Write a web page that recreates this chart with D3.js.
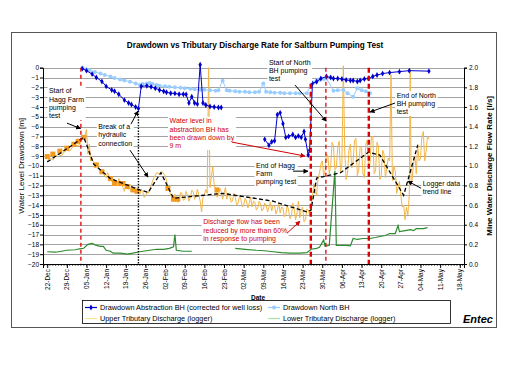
<!DOCTYPE html>
<html><head><meta charset="utf-8">
<script src="https://cdn.jsdelivr.net/npm/d3@7"></script>
<style>body{margin:0;background:#fff}svg{display:block;font-family:"Liberation Sans",Arial,sans-serif}</style>
</head><body><svg id="c" width="517" height="365"></svg>
<script>
// ---------- data ----------
const title = "Drawdown vs Tributary Discharge Rate for Saltburn Pumping Test";
const xDomain = ["2004-12-20 12", "2005-05-19 12"];
const tickDates = ["2004-12-22","2004-12-29","2005-01-05","2005-01-12","2005-01-19","2005-01-26","2005-02-02","2005-02-09","2005-02-16","2005-02-23","2005-03-02","2005-03-09","2005-03-16","2005-03-23","2005-03-30","2005-04-06","2005-04-13","2005-04-20","2005-04-27","2005-05-04","2005-05-11","2005-05-18"];
const tickLabels = ["22-Dec","29-Dec","05-Jan","12-Jan","19-Jan","26-Jan","02-Feb","09-Feb","16-Feb","23-Feb","02-Mar","09-Mar","16-Mar","23-Mar","30-Mar","06-Apr","13-Apr","20-Apr","27-Apr","04-May","11-May","18-May"];
const leftTicks = d3.range(0, -21, -1);
const rightTicks = [0,0.2,0.4,0.6,0.8,1.0,1.2,1.4,1.6,1.8,2.0];

// Drawdown Abstraction BH (m)
const abstractionBH = [
["2005-01-03 12",-0.1],["2005-01-05",-0.3],["2005-01-07",-0.65],["2005-01-08 12",-1.0],["2005-01-10 12",-1.4],["2005-01-12",-1.9],
["2005-01-14",-2.27],["2005-01-15",-2.4],["2005-01-16 12",-2.7],["2005-01-18 12",-3.3],["2005-01-20",-3.6],["2005-01-21",-3.75],
["2005-01-22 12",-4.0],["2005-01-23 12",-4.15],["2005-01-24 12",-1.9],["2005-01-26 12",-1.85],["2005-01-28",-1.95],["2005-01-29 12",-2.1],
["2005-01-31",-2.27],["2005-02-01 12",-2.4],["2005-02-02 12",-2.5],["2005-02-04",-2.6],["2005-02-05 12",-2.62],["2005-02-07",-2.7],
["2005-02-08 12",-2.7],["2005-02-09 12",-2.72],["2005-02-10 12",-3.6],["2005-02-11 12",-2.95],["2005-02-12 12",-3.6],["2005-02-13 12",-3.7],
["2005-02-14 12",0.3],["2005-02-15 12",-3.6],["2005-02-16 12",-3.8],["2005-02-18",-3.95],["2005-02-19 12",-4.0],["2005-02-21",-4.05],["2005-02-22",-4.05],
["2005-02-25",null],
["2005-03-09 12",-7.3],["2005-03-11",-7.9],["2005-03-12",-7.55],["2005-03-13",-7.45],["2005-03-14",-4.8],["2005-03-15",-4.6],["2005-03-16",-5.7],
["2005-03-17",-7.1],["2005-03-18",-7.0],["2005-03-19 12",-6.8],["2005-03-20 12",-7.1],["2005-03-21 12",-6.95],["2005-03-22 12",-7.1],
["2005-03-23 12",-6.5],["2005-03-24",-7.3],["2005-03-25",-8.9],["2005-03-25 12",-8.4],["2005-03-26 12",-1.6],["2005-03-28",-1.43],
["2005-03-29 12",-1.1],["2005-03-31 12",-0.9],["2005-04-02",-1.0],["2005-04-03",-1.1],["2005-04-04 12",-1.1],["2005-04-06",-1.15],
["2005-04-07 12",-1.25],["2005-04-09",-1.3],["2005-04-10",-1.3],["2005-04-11 12",-1.4],["2005-04-12 12",-1.3],["2005-04-14",-1.15],
["2005-04-15 12",-1.1],["2005-04-17",-0.9],["2005-04-18 12",-0.75],["2005-04-20 12",-0.6],["2005-04-23",-0.5],["2005-04-26 12",-0.4],
["2005-04-30",-0.3],["2005-05-07",-0.35]];

// Drawdown North BH (m)
const northBH = [
["2005-01-03 12",0.0],["2005-01-05",-0.15],["2005-01-06",-0.25],["2005-01-08",-0.45],["2005-01-10",-0.6],["2005-01-11 12",-0.75],
["2005-01-13 12",-0.9],["2005-01-15",-1.05],["2005-01-17",-1.2],["2005-01-18 12",-1.3],["2005-01-20 12",-1.43],["2005-01-22 12",-1.6],
["2005-01-24",-1.77],["2005-01-25",-1.65],["2005-01-26 12",-1.6],["2005-01-27 12",-1.55],["2005-01-28 12",-1.65],["2005-01-30",-1.77],
["2005-01-31",-1.85],["2005-02-02",-1.9],["2005-02-03 12",-1.95],["2005-02-05 12",-2.0],["2005-02-07 12",-2.05],["2005-02-09",-2.1],
["2005-02-11",-2.15],["2005-02-12 12",-2.2],["2005-02-14 12",-2.25],["2005-02-16",-2.25],["2005-02-18",-2.3],["2005-02-20",-2.35],
["2005-02-21",-2.3],["2005-02-22 12",-1.33],["2005-02-24",-2.3],["2005-02-25",-2.35],["2005-02-27",-2.4],["2005-02-28 12",-2.45],
["2005-03-02 12",-2.45],["2005-03-04",-2.5],["2005-03-06",-2.5],["2005-03-07 12",-2.45],["2005-03-09",-1.6],["2005-03-10",-2.45],
["2005-03-11 12",-2.5],["2005-03-13",-2.55],["2005-03-15",-2.55],["2005-03-16 12",-2.6],["2005-03-18 12",-2.6],["2005-03-20 12",-2.6],
["2005-03-22",-2.6],["2005-03-24 12",-2.6],["2005-03-26",-1.77],["2005-03-27",-1.5],["2005-03-28",-1.3],["2005-03-29",-1.25],
["2005-03-30 12",-1.15],["2005-03-31 12",-1.1],["2005-04-03",-2.35],["2005-04-04 12",-2.3],["2005-04-06 12",-2.27],["2005-04-08",-2.6],
["2005-04-10",-2.95],["2005-04-11 12",-2.1],["2005-04-13",-2.3],["2005-04-14 12",-2.4],["2005-04-16",-2.6]];

// Upper Tributary Discharge (logger) (l/s)
const upperTrib = [
["2004-12-22",1.05],["2004-12-23",1.08],["2004-12-24",1.06],["2004-12-25",1.10],["2004-12-26",1.12],["2004-12-27",1.10],["2004-12-28",1.14],
["2004-12-29",1.16],["2004-12-30",1.15],["2004-12-31",1.19],["2005-01-01",1.21],["2005-01-02",1.20],["2005-01-03",1.25],["2005-01-04",1.29],
["2005-01-04 12",1.31],["2005-01-05",1.37],["2005-01-05 12",1.12],["2005-01-06",1.22],["2005-01-06 12",1.05],["2005-01-07",1.08],
["2005-01-08",0.98],["2005-01-09",1.00],["2005-01-10",0.94],["2005-01-11",0.92],["2005-01-12",0.88],["2005-01-12 12",0.93],["2005-01-13",0.90],
["2005-01-14",0.85],["2005-01-14 12",0.80],["2005-01-15",0.86],["2005-01-16",0.82],["2005-01-16 12",0.87],["2005-01-17",0.84],["2005-01-18",0.78],
["2005-01-18 12",0.74],["2005-01-19",0.80],["2005-01-20",0.76],["2005-01-20 12",0.81],["2005-01-21",0.79],["2005-01-22",0.73],["2005-01-22 12",0.78],
["2005-01-23",0.75],["2005-01-24",0.71],["2005-01-24 12",0.76],["2005-01-25",0.74],["2005-01-25 12",0.68],["2005-01-26",0.69],["2005-01-26 12",0.73],
["2005-01-27",0.72],["2005-01-27 12",0.76],["2005-01-28",0.80],["2005-01-29",0.88],["2005-01-30",0.93],["2005-01-31",0.92],["2005-02-01",0.94],
["2005-02-02",0.90],["2005-02-03",0.80],["2005-02-04",0.70],["2005-02-05",0.66],["2005-02-05 12",0.71],["2005-02-06",0.68],["2005-02-06 12",0.63],
["2005-02-07",0.64],["2005-02-07 12",0.73],["2005-02-08",0.72],["2005-02-08 12",0.65],["2005-02-09",0.66],["2005-02-09 12",0.74],["2005-02-10",0.70],
["2005-02-10 12",0.64],["2005-02-11",0.68],["2005-02-11 12",0.75],["2005-02-12",0.74],["2005-02-12 12",0.66],["2005-02-13",0.69],["2005-02-13 12",0.76],
["2005-02-14",0.71],["2005-02-14 12",0.64],["2005-02-15",0.53],["2005-02-15 12",0.68],["2005-02-16",0.70],["2005-02-16 12",0.76],["2005-02-17",0.72],
["2005-02-17 12",2.0],["2005-02-18",0.78],["2005-02-19",0.99],["2005-02-19 12",0.80],["2005-02-20",0.76],["2005-02-20 12",0.68],["2005-02-21",0.70],
["2005-02-21 12",0.77],["2005-02-22",0.74],["2005-02-22 12",0.66],["2005-02-23",0.72],["2005-02-23 12",0.78],["2005-02-24",0.66],["2005-02-24 12",0.72],
["2005-02-25",0.70],["2005-02-25 12",0.63],["2005-02-26",0.64],["2005-02-26 12",0.72],["2005-02-27",0.68],["2005-02-27 12",0.60],["2005-02-28",0.62],
["2005-02-28 12",0.69],["2005-03-01",0.66],["2005-03-01 12",0.58],["2005-03-02",0.60],["2005-03-02 12",0.67],["2005-03-03",0.64],["2005-03-03 12",0.57],
["2005-03-04",0.62],["2005-03-04 12",0.68],["2005-03-05",0.58],["2005-03-05 12",0.64],["2005-03-06",0.63],["2005-03-06 12",0.55],["2005-03-07",0.57],
["2005-03-07 12",0.64],["2005-03-08",0.61],["2005-03-08 12",0.54],["2005-03-09",0.56],["2005-03-09 12",0.62],["2005-03-10",0.60],["2005-03-10 12",0.53],
["2005-03-11",0.58],["2005-03-11 12",0.63],["2005-03-12",0.54],["2005-03-12 12",0.60],["2005-03-13",0.59],["2005-03-13 12",0.51],["2005-03-14",0.55],
["2005-03-14 12",0.62],["2005-03-15",0.52],["2005-03-15 12",0.58],["2005-03-16",0.57],["2005-03-16 12",0.48],["2005-03-17",0.50],["2005-03-17 12",0.60],
["2005-03-18",0.55],["2005-03-18 12",0.46],["2005-03-19",0.49],["2005-03-19 12",0.62],["2005-03-20",0.56],["2005-03-20 12",0.45],["2005-03-21",0.52],
["2005-03-21 12",0.64],["2005-03-22",0.47],["2005-03-22 12",0.55],["2005-03-23",0.58],["2005-03-23 12",0.43],["2005-03-24",0.45],["2005-03-24 12",0.56],
["2005-03-25",0.55],["2005-03-25 12",0.50],["2005-03-26",0.60],["2005-03-26 12",0.68],["2005-03-27",0.82],["2005-03-27 12",0.74],["2005-03-28",0.70],
["2005-03-28 12",0.88],["2005-03-29",0.92],["2005-03-29 12",1.02],["2005-03-30",1.05],["2005-03-30 12",0.90],["2005-03-31",0.95],["2005-03-31 12",1.12],
["2005-04-01",1.10],["2005-04-01 12",0.92],["2005-04-02",1.00],["2005-04-02 12",1.24],["2005-04-03",1.20],["2005-04-03 12",0.96],["2005-04-04",0.98],
["2005-04-04 12",1.18],["2005-04-05",1.25],["2005-04-05 12",0.94],["2005-04-06",1.02],["2005-04-06 12",2.02],["2005-04-07",1.15],["2005-04-07 12",0.86],
["2005-04-08",0.92],["2005-04-08 12",1.16],["2005-04-09",1.22],["2005-04-09 12",0.98],["2005-04-10",1.05],["2005-04-10 12",1.26],["2005-04-11",1.28],
["2005-04-11 12",0.90],["2005-04-12",0.96],["2005-04-12 12",1.20],["2005-04-13",1.18],["2005-04-13 12",0.92],["2005-04-14",0.88],["2005-04-14 12",1.22],
["2005-04-15",1.26],["2005-04-15 12",0.98],["2005-04-16",1.02],["2005-04-16 12",1.30],["2005-04-17",1.30],["2005-04-17 12",0.92],["2005-04-18",0.95],
["2005-04-18 12",1.24],["2005-04-19",1.20],["2005-04-19 12",0.86],["2005-04-20",0.90],["2005-04-20 12",1.16],["2005-04-21",1.12],["2005-04-21 12",0.88],
["2005-04-22",0.98],["2005-04-22 12",1.08],["2005-04-23",1.05],["2005-04-23 12",1.93],["2005-04-24",0.85],["2005-04-24 12",1.00],["2005-04-25",0.95],
["2005-04-25 12",0.72],["2005-04-26",0.78],["2005-04-26 12",0.84],["2005-04-27",0.70],["2005-04-27 12",0.58],["2005-04-28",0.60],["2005-04-28 12",0.45],
["2005-04-29",0.58],["2005-04-29 12",0.50],["2005-04-30",0.70],["2005-04-30 08",1.98],["2005-04-30 16",0.80],["2005-05-01",0.85],["2005-05-01 12",1.02],
["2005-05-02",1.10],["2005-05-02 12",0.92],["2005-05-03",1.22],["2005-05-03 12",1.05],["2005-05-04",1.08],["2005-05-04 12",1.30],["2005-05-05",1.35],
["2005-05-05 12",1.05],["2005-05-06",1.15],["2005-05-06 12",1.30],["2005-05-07",1.27]];

// Upper tributary spot readings (square markers)
const upperSpot = [
["2004-12-22",1.095],["2004-12-24",1.12],["2004-12-26 12",1.15],["2004-12-29",1.18],["2004-12-31 12",1.22],["2005-01-02",1.25],["2005-01-04",1.29],
["2005-01-08 12",1.01],["2005-01-10 12",0.94],["2005-01-13 12",0.87],["2005-01-15",0.82],["2005-01-17",0.82],["2005-01-18",0.82],
["2005-01-19 12",0.79],["2005-01-21 12",0.755],["2005-01-23",0.74],["2005-02-03",0.77],["2005-02-05",0.66],["2005-02-06 12",0.66],["2005-02-20 12",0.755]];

// Logger data trend line (l/s)
const trendLine = [
["2004-12-22",1.04],["2005-01-04",1.29],["2005-01-05",1.22],["2005-01-07 12",1.02],["2005-01-13 12",0.87],["2005-01-24",0.755],
["2005-01-27",0.73],["2005-01-31 12",0.93],["2005-02-05",0.67],["2005-02-22 12",0.72],["2005-03-12 12",0.64],["2005-03-24 12",0.53],
["2005-03-26",0.55],["2005-03-28",0.875],["2005-04-05 12",0.93],["2005-04-15 12",1.14],["2005-04-19 12",1.11],["2005-04-28",0.70],["2005-05-03",1.21]];

// Lower Tributary Discharge (logger) (l/s)
const lowerTrib = [
["2004-12-22",0.125],["2004-12-25",0.12],["2004-12-29",0.14],["2005-01-01",0.145],["2005-01-02 12",0.155],["2005-01-04",0.16],
["2005-01-05 12",0.20],["2005-01-07",0.21],["2005-01-08 12",0.19],["2005-01-10",0.18],["2005-01-11",0.18],["2005-01-12",0.14],
["2005-01-13 12",0.13],["2005-01-14 12",0.11],["2005-01-17",0.11],["2005-01-19 12",0.10],["2005-01-21 12",0.11],["2005-01-24",0.125],
["2005-01-27 12",0.14],["2005-01-30",0.15],["2005-02-01 12",0.15],["2005-02-03 12",0.16],["2005-02-05",0.175],["2005-02-05 12",0.30],
["2005-02-06",0.14],["2005-02-08 12",0.13],["2005-02-11 12",0.13],["2005-02-20",null],
["2005-02-27",0.16],["2005-03-02 12",0.15],["2005-03-06 12",0.14],["2005-03-09 12",0.135],["2005-03-12 12",0.125],["2005-03-15 12",0.115],
["2005-03-18 12",0.11],["2005-03-22",0.11],["2005-03-24 12",0.115],["2005-03-26",0.15],["2005-03-28",0.16],["2005-03-29",0.17],
["2005-03-30 12",0.245],["2005-03-31",0.18],["2005-04-01 12",0.19],["2005-04-03 12",0.95],["2005-04-04",0.19],["2005-04-05 12",0.19],
["2005-04-07 12",0.19],["2005-04-09",0.185],["2005-04-10",0.26],["2005-04-11 12",0.25],["2005-04-13 12",0.26],["2005-04-16",0.26],
["2005-04-18",0.27],["2005-04-19 12",0.28],["2005-04-21 12",0.29],["2005-04-23",0.31],["2005-04-25",0.31],["2005-04-26",0.39],
["2005-04-26 12",0.33],["2005-04-28 12",0.34],["2005-04-30 12",0.35],["2005-05-01 12",0.34],["2005-05-02 12",0.36],["2005-05-05",0.36],
["2005-05-06 12",0.37]];

// Event lines: [date, top level (m), kind]
const eventLines = [["2005-01-03",0,"thin"],["2005-01-23 12",-4.4,"dot"],["2005-03-25 22",0,"thick"],["2005-03-31 07",0,"thin"],["2005-04-15 14",0,"thick"]];

// Annotations: text lines, anchor [date, level m], colour, arrows [[fromDate, fromLevel],[toDate,toLevel]]
const annotations = [
 {lines:["Start of","Hagg Farm","pumping","test"], at:["2004-12-22 15",-2.35], color:"#000", arrows:[[["2004-12-29 01",-5.65],["2005-01-02 21",-6.2]]]},
 {lines:["Break of a","hydraulic","connection"], at:["2005-01-09 05",-6.0], color:"#000", arrows:[[["2005-01-20 20",-5.75],["2005-01-23 08",-4.42]],[["2005-01-20 12",-8.4],["2005-01-26 22",-11.15]]]},
 {lines:["Water level in","abstraction BH has","been drawn down by","9 m"], at:["2005-02-03 14",-5.41], color:"#D00000", arrows:[[["2005-02-25 19",-7.58],["2005-03-23 20",-9.0]]]},
 {lines:["Start of North","BH pumping","test"], at:["2005-03-11 00",0.58], color:"#000", arrows:[[["2005-03-20 07",-1.77],["2005-03-31 10",-5.45]]]},
 {lines:["End of Hagg","Farm","pumping test"], at:["2005-03-06 10",-9.93], color:"#000", arrows:[[["2005-03-19 14",-10.54],["2005-03-24 22",-10.54]]]},
 {lines:["Discharge flow has been","reduced by more than 60%","in response to pumping"], at:["2005-02-15 14",-15.71], color:"#D00000", arrows:[[["2005-03-17 10",-16.87],["2005-03-22 02",-15.64]]]},
 {lines:["End of North","BH pumping","test"], at:["2005-04-25 12",-2.79], color:"#000", arrows:[[["2005-04-24 22",-3.6],["2005-04-16 00",-4.52]]]},
 {lines:["Logger data","trend line"], at:["2005-05-04 19",-11.8], color:"#000", arrows:[[["2005-05-04 05",-12.28],["2005-04-29 12",-11.56]]]}
];

const legendItems = [
 {label:"Drawdown Abstraction BH (corrected for well loss)", color:"#0000CC", marker:"diamond"},
 {label:"Drawdown North BH", color:"#99CCFF", marker:"circle"},
 {label:"Upper Tributary Discharge (logger)", color:"#FFE38F", marker:null},
 {label:"Lower Tributary Discharge (logger)", color:"#A8E2A8", marker:null}
];

// ---------- drawing ----------
const parseT = s => { const [d,h] = s.split(" "); const [Y,M,D] = d.split("-").map(Number); return new Date(Y, M-1, D, h ? +h : 0); };
const svg = d3.select("#c");
const P = {l:43, r:464, t:67.7, b:264};
const x = d3.scaleTime().domain(xDomain.map(parseT)).range([P.l, P.r]);
const yL = d3.scaleLinear().domain([-20,0]).range([P.b, P.t]);
const yR = d3.scaleLinear().domain([0,2]).range([P.b, P.t]);
const FONT = '"Liberation Sans", Arial, sans-serif';

// outer frame
svg.append("rect").attr("x",11.5).attr("y",32.5).attr("width",485).attr("height",295).attr("fill","#fff").attr("stroke","#555").attr("stroke-width",1);

// title
svg.append("text").attr("x",255).attr("y",45).attr("text-anchor","middle").attr("dominant-baseline","central")
  .attr("font-size",8.2).attr("font-weight","bold").text(title);

// gridlines
svg.append("g").selectAll("line").data(leftTicks).join("line")
  .attr("x1",P.l).attr("x2",P.r).attr("y1",d=>Math.round(yL(d))+0.5).attr("y2",d=>Math.round(yL(d))+0.5)
  .attr("stroke","#8c8c8c").attr("stroke-width",0.8);

// lower tributary
const lineR = d3.line().defined(d=>d[1]!==null).x(d=>x(parseT(d[0]))).y(d=>yR(d[1]));
const lineL = d3.line().defined(d=>d[1]!==null).x(d=>x(parseT(d[0]))).y(d=>yL(d[1]));
svg.append("path").datum(lowerTrib).attr("d",lineR).attr("fill","none").attr("stroke","#2E8B2E").attr("stroke-width",1.2);

// upper tributary
svg.append("path").datum(upperTrib).attr("d",lineR).attr("fill","none").attr("stroke","#F3B646").attr("stroke-width",1);
svg.append("g").selectAll("rect").data(upperSpot).join("rect")
  .attr("x",d=>x(parseT(d[0]))-2.5).attr("y",d=>yR(d[1])-2.5).attr("width",5).attr("height",5).attr("fill","#F29A1E");

// trend
svg.append("path").datum(trendLine).attr("d",lineR).attr("fill","none").attr("stroke","#000").attr("stroke-width",1.3).attr("stroke-dasharray","4,2.5");

// north BH
svg.append("path").datum(northBH).attr("d",lineL).attr("fill","none").attr("stroke","#99CCFF").attr("stroke-width",1);
svg.append("g").selectAll("circle").data(northBH.filter(d=>d[1]!==null)).join("circle")
  .attr("cx",d=>x(parseT(d[0]))).attr("cy",d=>yL(d[1])).attr("r",2).attr("fill","#99CCFF");

// abstraction BH
svg.append("path").datum(abstractionBH).attr("d",lineL).attr("fill","none").attr("stroke","#0000CC").attr("stroke-width",1);
const diamond = d3.symbol().type(d3.symbolDiamond).size(10);
svg.append("g").selectAll("path").data(abstractionBH.filter(d=>d[1]!==null)).join("path")
  .attr("transform",d=>`translate(${x(parseT(d[0]))},${yL(d[1])})`).attr("d",diamond).attr("fill","#0000CC");

// event lines
svg.append("g").selectAll("line").data(eventLines).join("line")
  .attr("x1",d=>x(parseT(d[0]))).attr("x2",d=>x(parseT(d[0])))
  .attr("y1",d=>yL(d[1])).attr("y2",P.b)
  .attr("stroke",d=>d[2]==="dot"?"#000":"#E00000")
  .attr("stroke-width",d=>d[2]==="thick"?2.4:(d[2]==="dot"?1.4:1.3))
  .attr("stroke-dasharray",d=>d[2]==="thick"?"5,3":(d[2]==="dot"?"1.4,1.4":"4,3"));

// arrow markers
const defs = svg.append("defs");
["#000","#D00000"].forEach((c,i)=>{
  defs.append("marker").attr("id","ah"+i).attr("viewBox","0 0 10 10").attr("refX",9).attr("refY",5)
    .attr("markerWidth",5).attr("markerHeight",5).attr("markerUnits","userSpaceOnUse").attr("orient","auto")
    .append("path").attr("d","M0,0L10,5L0,10z").attr("fill",c);
});

// annotations
annotations.forEach(a=>{
  const g = svg.append("g");
  const ax = x(parseT(a.at[0])), ay = yL(a.at[1]);
  const t = g.append("text").attr("font-size",7).attr("fill",a.color);
  a.lines.forEach((ln,i)=>{
    t.append("tspan").attr("x",ax).attr("y",ay+i*8.4).attr("dominant-baseline","central").text(ln);
  });
  const bb = t.node().getBBox();
  g.insert("rect","text").attr("x",bb.x-1.5).attr("y",bb.y-0.5).attr("width",bb.width+3).attr("height",bb.height+1).attr("fill","#fff");
  a.arrows.forEach(ar=>{
    svg.append("line")
      .attr("x1",x(parseT(ar[0][0]))).attr("y1",yL(ar[0][1]))
      .attr("x2",x(parseT(ar[1][0]))).attr("y2",yL(ar[1][1]))
      .attr("stroke",a.color).attr("stroke-width",1)
      .attr("marker-end",`url(#ah${a.color==="#000"?0:1})`);
  });
});

// axes
const gL = svg.append("g").attr("transform",`translate(${P.l},0)`)
  .call(d3.axisLeft(yL).tickValues(leftTicks).tickSize(3).tickFormat(d3.format("d")));
const gR = svg.append("g").attr("transform",`translate(${P.r},0)`)
  .call(d3.axisRight(yR).tickValues(rightTicks).tickSize(3).tickFormat(d3.format(".1f")));
const days = d3.timeDay.range(x.domain()[0], x.domain()[1]);
svg.append("g").selectAll("line").data(days).join("line")
  .attr("x1",d=>x(d)).attr("x2",d=>x(d)).attr("y1",P.b).attr("y2",P.b+2).attr("stroke","#000").attr("stroke-width",0.6);
const gX = svg.append("g").attr("transform",`translate(0,${P.b})`)
  .call(d3.axisBottom(x).tickValues(tickDates.map(parseT)).tickSize(4).tickFormat((d,i)=>tickLabels[i]));
[gL,gR,gX].forEach(g=>{
  g.select(".domain").attr("stroke","#000").attr("stroke-width",1);
  g.selectAll(".tick line").attr("stroke","#000");
  g.selectAll("text").attr("font-family",FONT).attr("font-size",6.5).attr("fill","#000");
});
gL.selectAll("text").attr("x",-4);
gR.selectAll("text").attr("x",5);
gX.selectAll("text").attr("transform","rotate(-90)").attr("text-anchor","end").attr("dy","0.32em").attr("x",-5).attr("y",0);

// axis titles
svg.append("text").attr("transform",`translate(21,${(P.t+P.b)/2}) rotate(-90)`).attr("text-anchor","middle").attr("dominant-baseline","central")
  .attr("font-size",8).text("Water Level Drawdown [m]");
svg.append("text").attr("transform",`translate(489,${(P.t+P.b)/2}) rotate(-90)`).attr("text-anchor","middle").attr("dominant-baseline","central")
  .attr("font-size",8).attr("font-weight","bold").text("Mine Water Discharge Flow Rate [l/s]");
svg.append("text").attr("x",258).attr("y",297).attr("text-anchor","middle").attr("dominant-baseline","central")
  .attr("font-size",6.5).attr("font-weight","bold").text("Date");

// legend
const lg = svg.append("g");
lg.append("rect").attr("x",82.5).attr("y",300.5).attr("width",368).attr("height",23).attr("fill","#fff").attr("stroke","#000").attr("stroke-width",0.8);
const lpos = [[85,307.5],[268,307.5],[85,318.5],[268,318.5]];
legendItems.forEach((it,i)=>{
  const [lx,ly] = lpos[i];
  lg.append("line").attr("x1",lx).attr("x2",lx+12).attr("y1",ly).attr("y2",ly).attr("stroke",it.color).attr("stroke-width",1.2);
  if(it.marker==="diamond") lg.append("path").attr("transform",`translate(${lx+6},${ly})`).attr("d",diamond).attr("fill",it.color);
  if(it.marker==="circle") lg.append("circle").attr("cx",lx+6).attr("cy",ly).attr("r",2).attr("fill",it.color);
  lg.append("text").attr("x",lx+15).attr("y",ly).attr("dominant-baseline","central").attr("font-size",7.3).text(it.label);
});

// logo
svg.append("text").attr("x",493).attr("y",319).attr("text-anchor","end").attr("dominant-baseline","central")
  .attr("font-size",11).attr("font-weight","bold").attr("font-style","italic").text("Entec");
</script></body></html>
